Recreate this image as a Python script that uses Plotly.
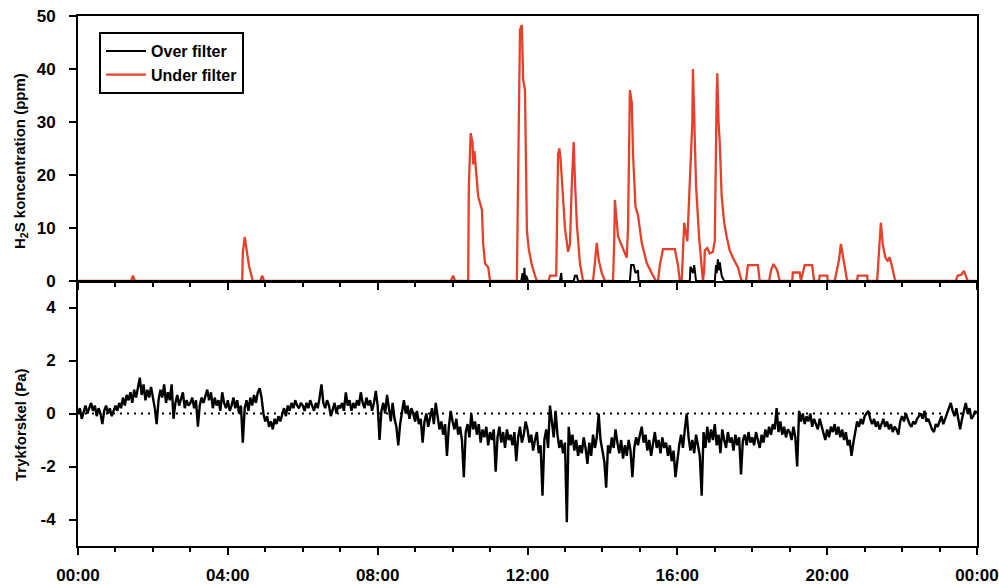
import plotly.graph_objects as go
from plotly.subplots import make_subplots

# ---- H2S concentration (ppm); time in minutes after midnight ----
under_t = [0, 85, 88, 91,
           263, 264, 267, 271, 274, 280, 292, 295, 298,
           597, 601, 604,
           625, 626, 629, 632, 633, 635, 639, 641, 647, 649, 652, 657, 660,
           703, 705, 708, 711, 712, 713, 716, 718, 719, 722, 727, 732, 735,
           754, 756, 764, 766, 769, 771, 773, 777, 780, 785, 788, 791, 794, 796, 799, 804, 809,
           825, 828, 831, 834, 839, 844,
           857, 859, 860, 865, 873, 879, 881, 884, 887, 889, 893, 897, 903, 911, 921, 926,
           929, 932, 937, 956, 961, 964,
           967, 971, 976, 979, 984, 985, 987, 990, 995, 998, 1001,
           1003, 1004, 1008, 1012, 1017, 1020, 1023, 1024, 1026, 1028, 1031, 1035, 1039, 1044,
           1049, 1053, 1057, 1063,
           1070, 1073, 1089, 1092,
           1107, 1110, 1114, 1120, 1124,
           1144, 1145, 1156, 1158, 1161, 1164, 1176, 1179,
           1187, 1188, 1200, 1201,
           1212, 1219, 1222, 1225, 1232,
           1248, 1249, 1264, 1265,
           1280, 1283, 1286, 1289, 1293, 1297, 1300, 1304, 1309,
           1406, 1409, 1415, 1419, 1422, 1425, 1440]
under_v = [0, 0, 1, 0,
           0, 5.3, 8.3, 5, 2.8, 0, 0, 1, 0,
           0, 1, 0,
           0, 17.8, 27.9, 26, 22, 24.5, 18.5, 16, 13.4, 7, 3.3, 2.6, 0,
           0, 20, 47.4, 48.3, 45, 38, 36, 19.6, 9.6, 6, 3, 1, 0,
           0, 1, 1, 1, 24, 25, 23, 15.5, 10, 5.5, 7, 18.5, 26.2, 19, 10.8, 3.3, 0,
           0, 3, 7.2, 4, 1.5, 0,
           0, 8, 15.3, 8.4, 6, 4.4, 10, 36, 33.7, 24, 14, 12.4, 7.2, 3.4, 1, 0,
           0, 3, 6, 6, 3, 0,
           0, 11, 7.5, 15, 30, 40, 30, 18, 8, 3, 0,
           2, 5.8, 6.2, 5.2, 5.5, 7.6, 35, 39.2, 30, 26, 16, 11, 8.4, 5.7,
           4.4, 3.5, 2.6, 0,
           0, 3, 3, 0,
           0, 2, 3.2, 2, 0,
           0, 1.6, 1.6, 0, 1.5, 3, 3, 0,
           0, 1, 1, 0,
           0, 4, 7, 5, 0,
           0, 1, 1, 0,
           0, 5, 11, 7, 4.5, 3.7, 4.5, 2.7, 0,
           0, 1, 1.2, 1.9, 1, 0, 0]

over_t = [0, 710, 712, 714, 715, 717, 718, 721,
          772, 774, 775,
          794, 796, 799, 801,
          884, 886, 890, 893, 897, 898,
          980, 981, 985, 987, 990,
          1020, 1022, 1023, 1025, 1027, 1028, 1031, 1035, 1440]
over_v = [0, 0, 1.5, -1, 2.5, -1.2, 1, 0,
          0, 1.5, 0,
          0, 1, 1, 0,
          0, 3, 3, 1.5, 2, 0,
          0, 2.7, 1.5, 3, 0,
          0, 3, 1.5, 4.1, 2, 3.5, 1, 0, 0]

# ---- Pressure difference (Pa), one reading every 3 minutes from 00:00 ----
dp_step = 3
dp_values = [
    # 00
    0.0, 0.2, -0.2, 0.1, 0.3, 0.0, 0.2, 0.4, 0.1, 0.3, -0.1, 0.2, 0.0, -0.4, 0.1, 0.3, 0.0, 0.2, -0.1, 0.1,
    # 01
    0.3, 0.1, 0.4, 0.2, 0.6, 0.3, 0.7, 0.5, 0.8, 0.4, 0.9, 0.6, 1.0, 1.35, 0.7, 1.1, 0.5, 0.9, 0.6, 1.0,
    # 02
    0.6, 0.2, -0.4, 0.5, 0.9, 0.6, 1.1, 0.4, 0.8, 0.5, 1.1, -0.2, 0.4, 0.7, 0.3, 0.6, 0.8, 0.2, 0.5, 0.3,
    # 03
    0.4, 0.6, 0.2, 0.5, -0.5, 0.3, 0.6, 0.4, 0.7, 0.9, 0.5, 0.8, 0.2, 0.6, 0.3, 0.5, 0.1, 0.8, 0.4, 0.2,
    # 04
    0.5, 0.1, 0.3, 0.6, 0.2, 0.5, 0.0, 0.3, -1.1, 0.2, 0.5, 0.1, 0.6, 0.3, 0.7, 0.4, 0.8, 0.95, 0.6, 0.0,
    # 05
    -0.3, -0.1, -0.5, -0.3, -0.6, -0.2, -0.4, -0.1, -0.3, 0.0, 0.2, -0.1, 0.3, 0.1, 0.4, 0.2, 0.5, 0.3, 0.2, 0.4,
    # 06
    0.3, 0.1, 0.4, 0.2, 0.5, 0.3, 0.1, 0.4, 0.2, 0.6, 1.1, 0.4, 0.2, 0.5, 0.3, -0.1, 0.2, 0.4, 0.0, 0.3,
    # 07
    0.2, 0.4, 0.1, 0.8, 0.3, 0.5, 0.1, 0.4, 0.2, 0.5, 0.3, 0.8, 0.4, 0.2, 0.6, 0.3, 0.5, 0.1, 0.4, 0.85,
    # 08
    0.3, -1.0, 0.1, 0.4, 0.0, 0.7, 0.2, -0.3, 0.4, -0.2, -0.5, -1.2, -0.4, 0.1, 0.5, 0.0, 0.3, -0.2, 0.2, 0.0,
    # 09
    -0.3, 0.1, -0.4, -0.2, -1.1, -0.3, 0.0, -0.5, -0.2, 0.2, -0.4, 0.4, -0.1, -0.6, -0.3, -0.8, -0.4, -1.6, -0.5, 0.1,
    # 10
    -0.3, -0.6, -0.2, -0.8, -0.5, -1.0, -2.4, -0.7, -0.4, -0.9, 0.0, -0.6, -0.3, -0.8, -0.4, -1.1, -0.6, -0.9, -0.5, -1.2,
    # 11
    -0.7, -1.0, -0.6, -2.2, -0.9, -0.5, -1.1, -0.7, -1.3, -0.6, -1.0, -0.8, -1.2, -0.7, -1.8, -0.9, -0.5, -1.1, -0.8, -0.3,
    # 12
    -0.6, -1.1, -0.8, -1.4, -1.0, -0.7, -1.5, -1.2, -3.1, -1.0, -0.6, -1.3, 0.3, -0.4, -0.9, 0.1, -0.8, -1.3, -1.0, -1.5,
    # 13
    -1.1, -4.1, -0.5, -1.2, -0.8, -1.4, -1.0, -1.6, -1.2, -1.5, -0.9, -1.3, -1.9, -1.1, -1.6, -0.8, -1.3, -0.9, 0.0, -1.0,
    # 14
    -1.4, -1.8, -2.8, -1.2, -1.5, -0.9, -1.3, -0.6, -1.1, -1.5, -1.0, -1.7, -1.2, -1.6, -1.0, -1.4, -2.4, -1.3, -0.9, -1.2,
    # 15
    -0.8, -0.5, -1.1, -0.8, -1.4, -1.0, -1.6, -1.1, -0.7, -1.3, -1.0, -1.5, -0.9, -1.3, -1.1, -1.6, -1.2, -1.8, -1.4, -2.4,
    # 16
    -1.7, -1.2, -0.8, -1.3, -0.6, 0.0, -0.9, -1.4, -1.0, -1.5, -0.8, -1.2, -1.6, -3.1, -0.7, -1.3, -0.5, -1.1, -0.6, -1.0,
    # 17
    -0.4, -1.2, -0.8, -1.5, -0.6, -1.0, -1.3, -0.7, -1.1, -0.9, -1.4, -0.8, -1.2, -0.9, -2.3, -1.0, -0.8, -1.2, -0.7, -1.1,
    # 18
    -0.9, -1.2, -0.7, -1.0, -1.3, -0.8, -1.1, -0.6, -0.9, -0.5, -0.8, -0.4, -0.6, 0.2, -0.7, -0.3, -0.8, -0.5, -0.9, -0.6,
    # 19
    -0.7, -1.0, -0.5, -0.9, -2.0, 0.1, -0.3, 0.0, -0.4, -0.1, -0.3, 0.0, -0.5, -0.2, -0.4, -0.6, -0.2, -0.5, -0.7, -1.0,
    # 20
    -0.6, -0.9, -0.5, -0.7, -0.4, -0.8, -0.5, -0.9, -0.6, -1.0, -0.7, -1.2, -1.0, -1.6, -1.1, -0.6, -0.3, -0.5, -0.2, -0.4,
    # 21
    -0.1, 0.0, 0.1, -0.2, -0.4, -0.2, -0.5, -0.3, -0.6, -0.4, -0.2, -0.5, -0.3, -0.6, -0.4, -0.7, -0.5, -0.6, -0.8, -0.3,
    # 22
    -0.1, -0.3, 0.0, -0.2, -0.4, -0.5, -0.3, -0.4, -0.2, -0.1, 0.0, -0.2, 0.1, -0.3, -0.2, -0.4, -0.6, -0.7, -0.4, -0.5,
    # 23
    -0.3, -0.1, -0.4, -0.2, 0.0, 0.2, 0.4, 0.1, -0.1, 0.2, -0.3, -0.6, -0.2, 0.1, 0.4, 0.0, 0.2, -0.2, -0.1, 0.1,
    # 24
    0.0,
]
dp_t = [i * dp_step for i in range(len(dp_values))]

# ---- axis ticks ----
time_tickvals = [0, 240, 480, 720, 960, 1200, 1440]
time_ticktext = ["00:00", "04:00", "08:00", "12:00", "16:00", "20:00", "00:00"]
h2s_ticks = [0, 10, 20, 30, 40, 50]
dp_ticks = [-4, -2, 0, 2, 4]
dp_ticktext = ["-4", "-2", "0", "2", "4"]

RED = "#e6402b"
FONT = "Liberation Sans"

fig = make_subplots(rows=2, cols=1, shared_xaxes=True, vertical_spacing=0)

# red first so the black "over filter" trace sits on top of it
fig.add_trace(go.Scatter(x=under_t, y=under_v, mode="lines", name="Under filter",
                         line=dict(color=RED, width=2.3)), row=1, col=1)
fig.add_trace(go.Scatter(x=over_t, y=over_v, mode="lines", name="Over filter",
                         line=dict(color="black", width=2)), row=1, col=1)
fig.add_trace(go.Scatter(x=dp_t, y=dp_values, mode="lines", showlegend=False,
                         line=dict(color="black", width=2.4)), row=2, col=1)

fig.add_hline(y=0, row=2, col=1, layer="below",
              line=dict(color="black", width=2, dash="2px,5px"))

tickfont = dict(family=FONT, size=17, color="black", weight="bold")
axis_common = dict(showline=True, linecolor="black", linewidth=2,
                   showgrid=False, zeroline=False, ticks="outside",
                   tickcolor="black", tickwidth=2, automargin=False)

x_common = dict(axis_common, range=[0, 1440], tickmode="array",
                tickvals=time_tickvals, ticktext=time_ticktext, ticklen=7,
                minor=dict(tickmode="linear", tick0=0, dtick=60, ticks="outside",
                           ticklen=4, tickwidth=2, tickcolor="black"))

fig.update_xaxes(x_common, row=1, col=1, mirror=True, showticklabels=False)
fig.update_xaxes(x_common, row=2, col=1, showticklabels=True, tickfont=tickfont,
                 ticklabelstandoff=6)

fig.update_yaxes(axis_common, row=1, col=1, range=[0, 50], tickvals=h2s_ticks,
                 ticklen=7, mirror=True, tickfont=tickfont, ticklabelstandoff=10,
                 domain=[0.5, 1.0])
fig.update_yaxes(axis_common, row=2, col=1, range=[-5, 5], tickmode="array",
                 tickvals=dp_ticks, ticktext=dp_ticktext,
                 ticklen=7, mirror=True, tickfont=tickfont, ticklabelstandoff=10,
                 domain=[0.0, 0.5])

title_font = dict(family=FONT, size=15, color="black", weight="bold")
fig.add_annotation(text="H<sub>2</sub>S koncentration (ppm)", textangle=-90,
                   xref="paper", yref="paper", x=-0.0645, y=0.7264,
                   xanchor="center", yanchor="middle", showarrow=False,
                   font=title_font)
fig.add_annotation(text="Trykforskel (Pa)", textangle=-90,
                   xref="paper", yref="paper", x=-0.0645, y=0.2283,
                   xanchor="center", yanchor="middle", showarrow=False,
                   font=title_font)

fig.update_layout(
    width=999, height=584,
    margin=dict(l=78, r=22, t=16, b=38),
    paper_bgcolor="white", plot_bgcolor="white",
    font=dict(family=FONT, color="black"),
    legend=dict(x=0.0234, y=0.9698, xanchor="left", yanchor="top",
                traceorder="reversed",
                bgcolor="white", bordercolor="black", borderwidth=2,
                font=dict(family=FONT, size=16, color="black", weight="bold"),
                itemwidth=40, tracegroupgap=0),
)

fig.write_html("out.html")
